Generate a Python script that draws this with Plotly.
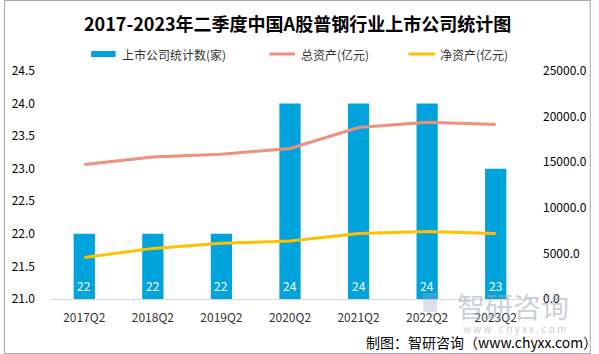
import plotly.graph_objects as go

categories = ["2017Q2", "2018Q2", "2019Q2", "2020Q2", "2021Q2", "2022Q2", "2023Q2"]
company_counts = [22, 22, 22, 24, 24, 24, 23]
total_assets = [14750, 15580, 15880, 16500, 18800, 19380, 19130]
net_assets = [4560, 5550, 6100, 6350, 7190, 7410, 7190]

FONT = "Noto Sans CJK SC"
BLUE = "#00A3DB"
SALMON = "#EE907B"
YELLOW = "#FFC000"

L, R, T, B = 47, 62, 71, 55
PW, PH = 599 - L - R, 354 - T - B
def px(x):
    return (x - L) / PW
def py(y):
    return (354 - B - y) / PH

fig = go.Figure()
fig.add_trace(go.Bar(
    x=categories, y=company_counts, name="上市公司统计数(家)",
    marker=dict(color=BLUE, line=dict(width=0)), width=0.31, yaxis="y",
))
fig.add_trace(go.Scatter(
    x=categories, y=total_assets, name="总资产(亿元)", mode="lines",
    line=dict(color=SALMON, width=3), yaxis="y2",
))
fig.add_trace(go.Scatter(
    x=categories, y=net_assets, name="净资产(亿元)", mode="lines",
    line=dict(color=YELLOW, width=3), yaxis="y2",
))

annotations = []
for c, v in zip(categories, company_counts):
    annotations.append(dict(x=c, y=21, xref="x", yref="y", text=str(v), showarrow=False,
                            yanchor="bottom", yshift=3,
                            font=dict(family=FONT, size=12, color="white")))

legend_items = [
    ("上市公司统计数(家)", BLUE, "rect", 89, 114, 118),
    ("总资产(亿元)", SALMON, "line", 271, 297, 301),
    ("净资产(亿元)", YELLOW, "line", 413, 440, 443),
]
shapes = []
LEG_Y = 54
for name, col, kind, x0, x1, tx in legend_items:
    if kind == "rect":
        shapes.append(dict(type="rect", xref="paper", yref="paper", x0=px(x0), x1=px(x1),
                           y0=py(LEG_Y + 3), y1=py(LEG_Y - 3), fillcolor=col, line=dict(width=0)))
    else:
        shapes.append(dict(type="line", xref="paper", yref="paper", x0=px(x0), x1=px(x1),
                           y0=py(LEG_Y), y1=py(LEG_Y), line=dict(color=col, width=3)))
    annotations.append(dict(x=px(tx), y=py(LEG_Y), xref="paper", yref="paper", text=name,
                            showarrow=False, xanchor="left", yanchor="middle",
                            font=dict(family=FONT, size=12, color="#333")))

annotations += [
    dict(x=px(300), y=py(23), xref="paper", yref="paper",
         text="<b>2017-2023年二季度中国A股普钢行业上市公司统计图</b>", showarrow=False,
         xanchor="center", yanchor="middle", font=dict(family=FONT, size=18, color="#000")),
    dict(x=px(520), y=py(306), xref="paper", yref="paper", text="智研咨询", showarrow=False,
         xanchor="center", yanchor="middle", font=dict(family=FONT, size=28, color="rgba(160,168,180,0.55)")),
    dict(x=px(521), y=py(328), xref="paper", yref="paper", text="w w w . c h y x x . c o m", showarrow=False,
         xanchor="center", yanchor="middle", font=dict(family=FONT, size=10, color="rgba(160,168,180,0.6)")),
    dict(x=px(368), y=py(342), xref="paper", yref="paper", text="制图：智研咨询（www.chyxx.com）",
         showarrow=False, xanchor="left", yanchor="middle", font=dict(family=FONT, size=14, color="#000")),
]
shapes += [
    dict(type="rect", xref="paper", yref="paper", x0=px(428), x1=px(442), y0=py(312), y1=py(293),
         fillcolor="rgba(150,170,200,0.35)", line=dict(width=0)),
    dict(type="rect", xref="paper", yref="paper",
         x0=px(0.5), x1=px(598.5), y0=py(353.5), y1=py(0.5),
         line=dict(color="#A6A6A6", width=1), fillcolor="rgba(0,0,0,0)", layer="below"),
]

fig.update_layout(
    width=599, height=354,
    margin=dict(l=L, r=R, t=T, b=B),
    paper_bgcolor="white", plot_bgcolor="white",
    font=dict(family=FONT, size=12, color="#333"),
    showlegend=False,
    xaxis=dict(showgrid=False, showline=True, linecolor="#D9D9D9", linewidth=1,
               ticks="", tickfont=dict(family=FONT, size=12, color="#333"), ticklabelstandoff=8,
               range=[-0.5, 6.5]),
    yaxis=dict(range=[21, 24.5], dtick=0.5, tickformat=".1f", showgrid=False, zeroline=False,
               showline=False, ticks="", ticklabelstandoff=14,
               tickfont=dict(family=FONT, size=12, color="#000")),
    yaxis2=dict(range=[0, 25000], dtick=5000, tickformat=".1f", overlaying="y", side="right",
                showgrid=False, zeroline=False, showline=False, ticks="", ticklabelstandoff=12,
                tickfont=dict(family=FONT, size=12, color="#000")),
    annotations=annotations,
    shapes=shapes,
)

fig.write_html("out.html")
